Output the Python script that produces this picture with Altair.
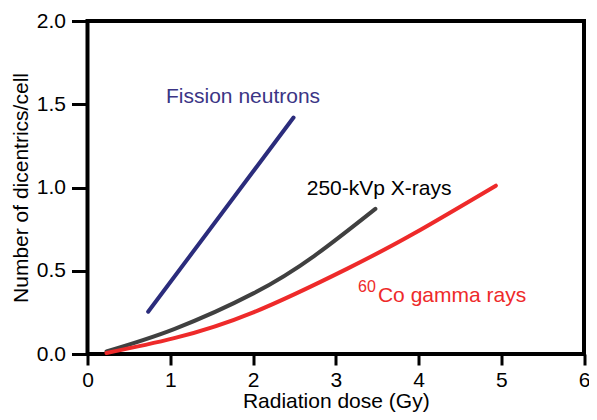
import altair as alt
import pandas as pd

# ---- data ----
fission_dose = [0.733, 2.49]
fission_yield = [0.254, 1.42]

xray_dose = [0.23, 1.047, 2.004, 2.742, 3.479]
xray_yield = [0.016, 0.15, 0.364, 0.59, 0.872]

cobalt_dose = [0.23, 1.047, 2.004, 3.141, 3.939, 4.935]
cobalt_yield = [0.006, 0.095, 0.25, 0.513, 0.722, 1.011]

series_names = ["Fission neutrons", "250-kVp X-rays", "60Co gamma rays"]
series_colors = ["#2B2C7C", "#404040", "#EE2A2A"]

x_ticks = [0, 1, 2, 3, 4, 5, 6]
y_ticks = [0.0, 0.5, 1.0, 1.5, 2.0]

# annotation labels (text, dose, yield, colour, size)
label_text = ["Fission neutrons", "250-kVp X-rays", "Co gamma rays", "60"]
label_x = [0.949, 2.649, 3.51, 3.269]
label_y = [1.509, 0.955, 0.314, 0.374]
label_color = ["#3B3585", "#000000", "#EE2A2A", "#EE2A2A"]
label_size = [21, 21, 21, 16]

rows = []
for name, xs, ys in zip(series_names,
                        [fission_dose, xray_dose, cobalt_dose],
                        [fission_yield, xray_yield, cobalt_yield]):
    for i, (x, y) in enumerate(zip(xs, ys)):
        rows.append({"series": name, "dose": x, "yield": y, "order": i})
df = pd.DataFrame(rows)

labels = pd.DataFrame({"text": label_text, "dose": label_x, "yield": label_y,
                       "color": label_color, "size": label_size})

FONT = "Liberation Sans"

xscale = alt.Scale(domain=[0, 6], nice=False, zero=False)
yscale = alt.Scale(domain=[0, 2], nice=False)

xaxis = alt.Axis(values=x_ticks, format="d", title="Radiation dose (Gy)",
                 tickSize=11, tickWidth=3, tickColor="black", labelPadding=4,
                 titleY=53, titleBaseline="alphabetic",
                 domain=False, grid=False, labelFlush=False, labelOverlap=False)
yaxis = alt.Axis(values=y_ticks, format=".1f", title="Number of dicentrics/cell",
                 tickSize=16, tickWidth=3, tickColor="black", labelPadding=6,
                 titleX=-60.5, titleBaseline="alphabetic",
                 domain=False, grid=False, labelFlush=False, labelOverlap=False)

lines = alt.Chart(df).mark_line(strokeWidth=4, strokeCap="round", interpolate="natural").encode(
    x=alt.X("dose:Q", scale=xscale, axis=xaxis),
    y=alt.Y("yield:Q", scale=yscale, axis=yaxis),
    color=alt.Color("series:N", scale=alt.Scale(domain=series_names, range=series_colors), legend=None),
    order="order:Q",
    detail="series:N",
)

texts = alt.Chart(labels).mark_text(align="left", baseline="alphabetic", font=FONT).encode(
    x=alt.X("dose:Q", scale=xscale),
    y=alt.Y("yield:Q", scale=yscale),
    text="text:N",
    color=alt.Color("color:N", scale=None),
    size=alt.Size("size:Q", scale=None),
)

chart = alt.layer(lines, texts).properties(
    width=496.5, height=333,
    autosize=alt.AutoSizeParams(type="none"),
    padding={"left": 79.5, "top": 13, "right": 5, "bottom": 58},
).configure_view(
    stroke="black", strokeWidth=4
).configure_axis(
    labelFont=FONT, titleFont=FONT, labelFontSize=21, titleFontSize=21,
    titleFontWeight="normal", labelColor="black", titleColor="black",
)

chart.save("out.html", embed_options={"renderer": "svg", "actions": False})
